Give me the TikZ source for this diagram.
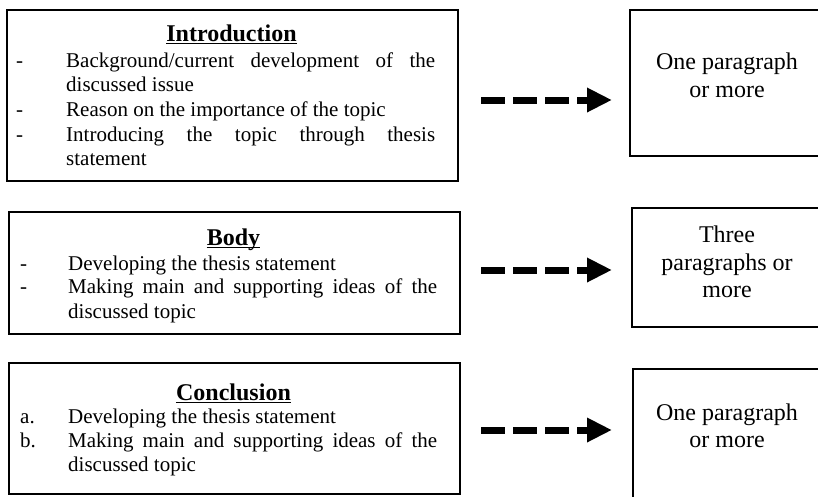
\documentclass[tikz,border=0pt]{standalone}
\usepackage{fontspec}
\setmainfont{Liberation Serif}
\usetikzlibrary{arrows.meta}
\newcommand{\itembox}[1]{\parbox[t]{369pt}{\hyphenpenalty=10000\relax\exhyphenpenalty=10000\relax #1}}
\begin{document}
\begin{tikzpicture}[x=1pt,y=-1pt,
  box/.style={draw, line width=2pt, rectangle, anchor=north west, inner sep=0pt},
  ttl/.style={anchor=base, inner sep=0pt, font=\fontsize{24}{28}\selectfont\bfseries},
  lmark/.style={anchor=base west, inner sep=0pt, font=\fontsize{21}{24.5}\selectfont},
  itm/.style={anchor=base west, inner sep=0pt, font=\fontsize{21}{24.5}\selectfont},
  rtxt/.style={anchor=base, inner sep=0pt, font=\fontsize{24}{27.5}\selectfont},
  uline/.style={line width=1.3pt},
  darrow/.style={line width=7pt, dash pattern=on 24pt off 8pt, -{Triangle[length=25pt,width=23pt]}}
]
\clip (0,0) rectangle (818,496);
\fill[white] (0,0) rectangle (818,496);

% left boxes
\node[box, minimum width=451pt, minimum height=171pt] (intro) at (6,9) {};
\node[box, minimum width=451pt, minimum height=122pt] (body) at (8,211) {};
\node[box, minimum width=451pt, minimum height=131pt] (concl) at (8,362) {};

% right boxes
\node[box, minimum width=200pt, minimum height=146pt] (r1) at (629,9) {};
\node[box, minimum width=200pt, minimum height=119pt] (r2) at (631,207) {};
\node[box, minimum width=200pt, minimum height=150pt] (r3) at (632,368) {};

% Introduction
\node[ttl] (t1) at (231.5,41) {Introduction};
\draw[uline] ([yshift=-2.5pt]t1.base west) -- ([yshift=-2.5pt]t1.base east);
\node[lmark] (m11) at (16,67) {-};
\node[itm] (i11) at (66,67) {\itembox{Background/current development of the discussed issue}};
\node[lmark] (m12) at (16,116.5) {-};
\node[itm] (i12) at (66,116.5) {\itembox{Reason on the importance of the topic}};
\node[lmark] (m13) at (16,141) {-};
\node[itm] (i13) at (66,141) {\itembox{Introducing the topic through thesis statement}};

% Body
\node[ttl] (t2) at (233.5,245) {Body};
\draw[uline] ([yshift=-2.5pt]t2.base west) -- ([yshift=-2.5pt]t2.base east);
\node[lmark] (m21) at (20,270) {-};
\node[itm] (i21) at (68,270) {\itembox{Developing the thesis statement}};
\node[lmark] (m22) at (20,293.5) {-};
\node[itm] (i22) at (68,293.5) {\itembox{Making main and supporting ideas of the discussed topic}};

% Conclusion
\node[ttl] (t3) at (233.5,400) {Conclusion};
\draw[uline] ([yshift=-2.5pt]t3.base west) -- ([yshift=-2.5pt]t3.base east);
\node[lmark] (m31) at (20,423) {a.};
\node[itm] (i31) at (68,423) {\itembox{Developing the thesis statement}};
\node[lmark] (m32) at (20,447) {b.};
\node[itm] (i32) at (68,447) {\itembox{Making main and supporting ideas of the discussed topic}};

% right texts
\node[rtxt] (r1a) at (727,69.5) {One paragraph};
\node[rtxt] (r1b) at (727,97) {or more};
\node[rtxt] (r2a) at (727,242) {Three};
\node[rtxt] (r2b) at (727,270) {paragraphs or};
\node[rtxt] (r2c) at (727,297) {more};
\node[rtxt] (r3a) at (727,420) {One paragraph};
\node[rtxt] (r3b) at (727,447) {or more};

% arrows
\coordinate (a1s) at (481,100);
\coordinate (a1e) at (612,100);
\coordinate (a2s) at (481,270);
\coordinate (a2e) at (612,270);
\coordinate (a3s) at (481,430);
\coordinate (a3e) at (612,430);
\draw[darrow] (a1s) -- (a1e);
\draw[darrow] (a2s) -- (a2e);
\draw[darrow] (a3s) -- (a3e);
\end{tikzpicture}
\end{document}
